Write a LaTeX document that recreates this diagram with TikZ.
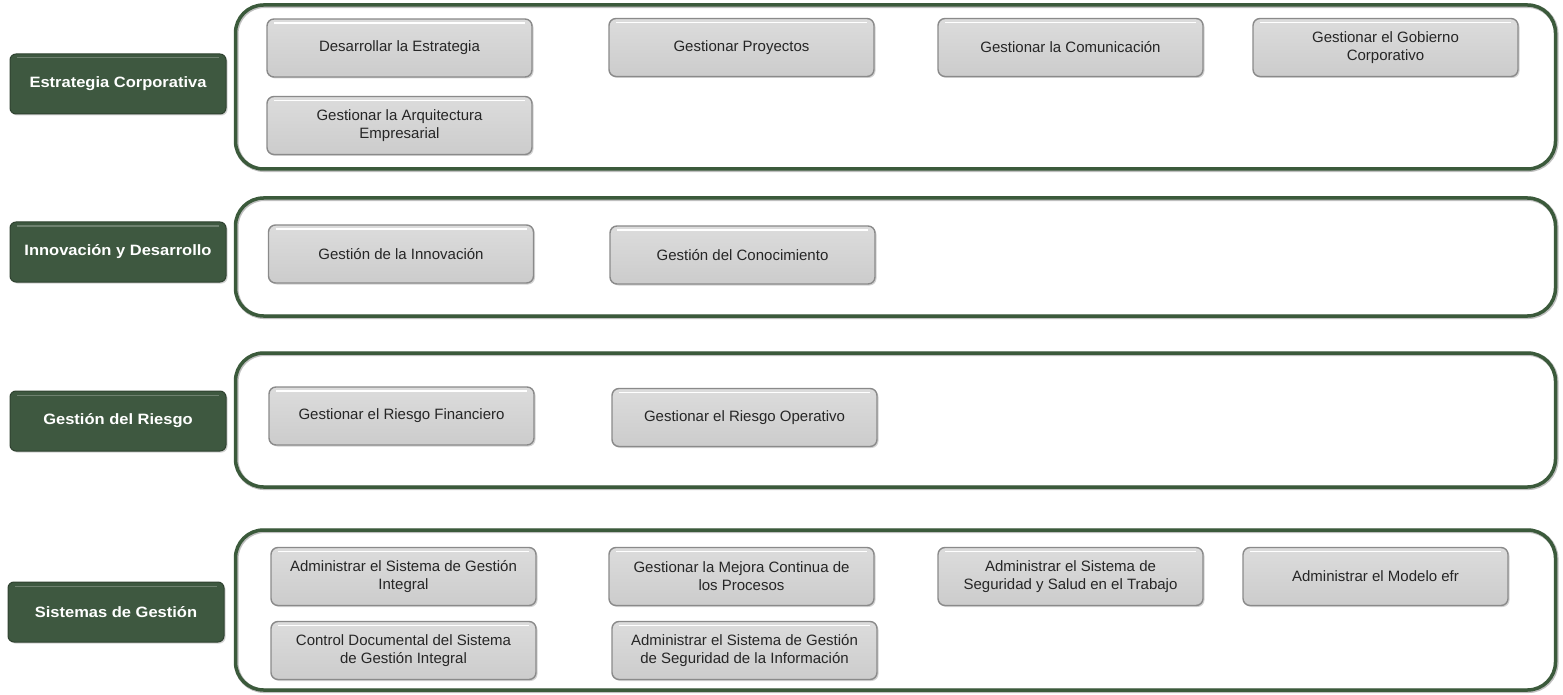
\documentclass[tikz,border=0pt]{standalone}
\usepackage{fontspec}
\setmainfont{Liberation Sans}
\newfontfamily\lblfont{Liberation Sans}[FakeStretch=1.1]
\usetikzlibrary{shadows}
\definecolor{frm}{HTML}{3B5A3B}
\definecolor{lbl}{HTML}{3E5840}
\definecolor{gtop}{HTML}{DCDCDC}
\definecolor{gbot}{HTML}{CCCCCC}
\definecolor{gedge}{HTML}{8A8A8A}
\definecolor{gtext}{HTML}{262626}
\begin{document}
\begin{tikzpicture}[x=1pt,y=-1pt,
  frame/.style={draw=frm, line width=3.5pt, rounded corners=28pt, inner sep=0pt, minimum width=1320pt,
    drop shadow={shadow xshift=0.8pt, shadow yshift=-0.8pt, opacity=0.25, fill=none, draw=black, line width=4.5pt}},
  lblbox/.style={fill=lbl, draw=lbl!75!black, line width=1pt, rounded corners=6pt, text=white,
    font=\lblfont\fontsize{15}{18}\selectfont\bfseries, inner sep=0pt, align=center,
    minimum width=216pt, minimum height=60pt,
    drop shadow={shadow xshift=1.5pt, shadow yshift=-1.5pt, opacity=0.35},
    path picture={\draw[white, opacity=0.25, line width=1pt]
      ([xshift=7pt,yshift=-4pt]path picture bounding box.north west) --
      ([xshift=-7pt,yshift=-4pt]path picture bounding box.north east);}},
  procbox/.style={top color=gtop, bottom color=gbot, draw=gedge, line width=1.4pt, rounded corners=7pt, text=gtext,
    font=\fontsize{15}{18}\selectfont, inner sep=0pt, align=center,
    minimum width=265pt, minimum height=58pt,
    drop shadow={shadow xshift=1.5pt, shadow yshift=-1.5pt, opacity=0.35},
    path picture={\draw[white, line width=1.3pt]
      ([xshift=7pt,yshift=-4pt]path picture bounding box.north west) --
      ([xshift=-7pt,yshift=-4pt]path picture bounding box.north east);}}
]
\useasboundingbox (0,0) rectangle (1563,695);

% ---- Estrategia Corporativa ----
\node[frame, minimum height=164pt] (f1) at (895.5,87) {};
\node[lblbox] (l1) at (118,84) {Estrategia Corporativa};
\node[procbox] (p11) at (399.5,48) {Desarrollar la Estrategia};
\node[procbox] (p12) at (741.5,47.5) {Gestionar Proyectos};
\node[procbox] (p13) at (1070.5,47.5) {Gestionar la Comunicación};
\node[procbox] (p14) at (1385.5,47.5) {Gestionar el Gobierno\\Corporativo};
\node[procbox] (p15) at (399.5,125.5) {Gestionar la Arquitectura\\Empresarial};

% ---- Innovación y Desarrollo ----
\node[frame, minimum height=118pt] (f2) at (895.5,257) {};
\node[lblbox] (l2) at (118,252) {Innovación y Desarrollo};
\node[procbox] (p21) at (401,254) {Gestión de la Innovación};
\node[procbox] (p22) at (742.5,255) {Gestión del Conocimiento};

% ---- Gestión del Riesgo ----
\node[frame, minimum height=134pt] (f3) at (895.5,420) {};
\node[lblbox] (l3) at (118,421) {Gestión del Riesgo};
\node[procbox] (p31) at (401.5,416) {Gestionar el Riesgo Financiero};
\node[procbox] (p32) at (744.5,417.5) {Gestionar el Riesgo Operativo};

% ---- Sistemas de Gestión ----
\node[frame, minimum height=160pt] (f4) at (895.5,610) {};
\node[lblbox] (l4) at (116,612) {Sistemas de Gestión};
\node[procbox] (p41) at (403.5,576.5) {Administrar el Sistema de Gestión\\Integral};
\node[procbox] (p42) at (741.5,576.5) {Gestionar la Mejora Continua de\\los Procesos};
\node[procbox] (p43) at (1070.5,576.5) {Administrar el Sistema de\\Seguridad y Salud en el Trabajo};
\node[procbox] (p44) at (1375.5,576.5) {Administrar el Modelo efr};
\node[procbox] (p45) at (403.5,650.5) {Control Documental del Sistema\\de Gestión Integral};
\node[procbox] (p46) at (744.5,650.5) {Administrar el Sistema de Gestión\\de Seguridad de la Información};
\end{tikzpicture}
\end{document}
